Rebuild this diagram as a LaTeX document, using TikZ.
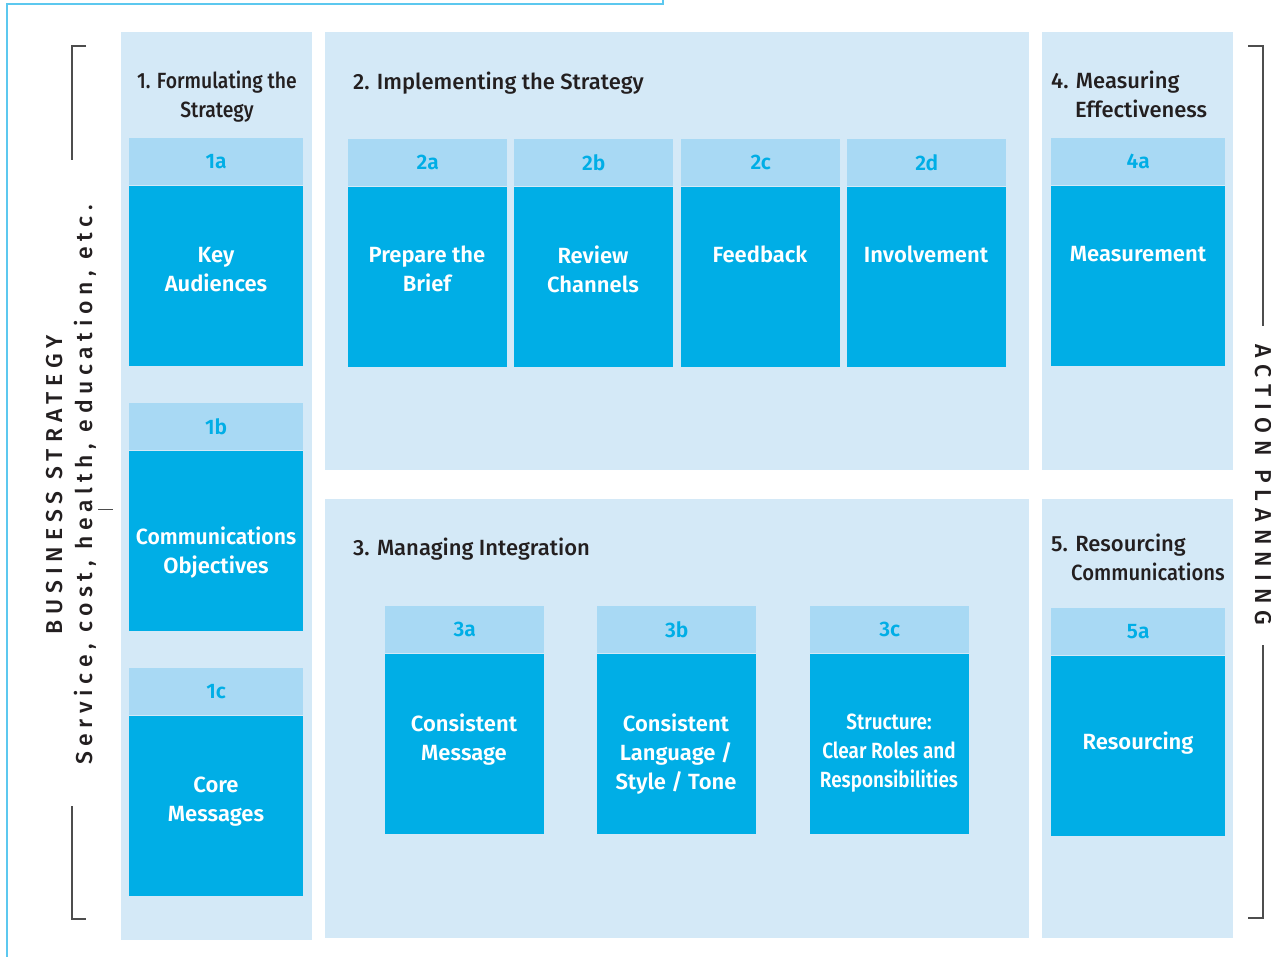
\documentclass[tikz,border=0pt]{standalone}
\usepackage{fontspec}
\usepackage{graphicx}
\setmainfont{Fira Sans}[UprightFont=* Medium, BoldFont=* SemiBold]

\definecolor{panelfill}{HTML}{D4E9F7}
\definecolor{hdrfill}{HTML}{A8D9F4}
\definecolor{bodyfill}{HTML}{00AEE6}
\definecolor{titleink}{HTML}{231F20}
\definecolor{frameline}{HTML}{5CC8EF}
\definecolor{bracketline}{HTML}{4D4D4D}

\tikzset{
  panel/.style={fill=panelfill},
  hdr/.style={fill=hdrfill, inner sep=0pt, minimum height=47pt, text=bodyfill,
    font=\bfseries\fontsize{21}{24}\selectfont},
  bdy/.style={fill=bodyfill, inner sep=0pt, minimum height=180pt},
  lbl/.style={anchor=north, inner sep=0pt, align=center, text=white,
    font=\bfseries\fontsize{22}{29}\selectfont},
  ttl/.style={inner sep=0pt, text=titleink, font=\fontsize{22}{29}\selectfont},
  sidetext/.style={inner sep=0pt, text=titleink},
  bracket/.style={draw=bracketline, line width=1.3pt},
}

% header strip + body block of one card
\newcommand{\card}[5]{%
  \node[hdr, minimum width=#4pt, anchor=north west] (#1h) at (#2,#3) {#5};
  \node[bdy, minimum width=#4pt, anchor=north] (#1b) at (#1h.south) {};
}

\begin{document}
\begin{tikzpicture}[x=1pt,y=-1pt]
\useasboundingbox (0,0) rectangle (1271,957);

% outer frame line
\coordinate (f0) at (663,0);
\coordinate (f1) at (663,4);
\coordinate (f2) at (7,4);
\coordinate (f3) at (7,957);
\draw[frameline, line width=1.4pt] (f0) -- (f1) -- (f2) -- (f3);

% panels
\fill[panel] (121,32) rectangle (312,940);
\fill[panel] (325,32) rectangle (1029,470);
\fill[panel] (325,499) rectangle (1029,938);
\fill[panel] (1042,32) rectangle (1233,470);
\fill[panel] (1042,499) rectangle (1233,938);

% titles
\node[ttl, anchor=north, align=center] (t1) at (217,71)
  {\scalebox{0.88}[1]{1. Formulating the}\\\scalebox{0.88}[1]{Strategy}};
\node[ttl, anchor=north west] (t2) at (353,72) {2. Implementing the Strategy};
\node[ttl, anchor=north west] (t3) at (353,538) {3. Managing Integration};
\node[ttl, anchor=north west, align=left] (t4) at (1051,71)
  {4. Measuring\\\hspace*{24pt}Effectiveness};
\node[ttl, anchor=north west, align=left] (t5) at (1051,534)
  {5. Resourcing\\\hspace*{20pt}\scalebox{0.92}[1]{Communications}};

% cards
\card{c1a}{129}{138}{174}{1a}
\card{c1b}{129}{403}{174}{1b}
\card{c1c}{129}{668}{174}{1c}
\card{c2a}{348}{139}{159}{2a}
\card{c2b}{514}{139}{159}{2b}
\card{c2c}{681}{139}{159}{2c}
\card{c2d}{847}{139}{159}{2d}
\card{c4a}{1051}{138}{174}{4a}
\card{c3a}{385}{606}{159}{3a}
\card{c3b}{597}{606}{159}{3b}
\card{c3c}{810}{606}{159}{3c}
\card{c5a}{1051}{608}{174}{5a}

% card labels
\node[lbl] (l1a) at (216,247) {Key\\Audiences};
\node[lbl] (l1b) at (216,527) {\scalebox{0.96}[1]{Communications}\\Objectives};
\node[lbl] (l1c) at (216,777) {Core\\Messages};
\node[lbl] (l2a) at (427,246) {Prepare the\\Brief};
\node[lbl] (l2b) at (593,246) {Review\\Channels};
\node[lbl] (l2c) at (760,246) {Feedback};
\node[lbl] (l2d) at (926,246) {Involvement};
\node[lbl] (l4a) at (1138,246) {Measurement};
\node[lbl] (l3a) at (464,714) {Consistent\\Message};
\node[lbl] (l3b) at (676,714) {Consistent\\Language /\\Style / Tone};
\node[lbl] (l3c) at (889,714)
  {\scalebox{0.86}[1]{Structure:}\\\scalebox{0.86}[1]{Clear Roles and}\\\scalebox{0.86}[1]{Responsibilities}};
\node[lbl] (l5a) at (1138,732) {Resourcing};

% left side: business strategy
\node[sidetext, rotate=90,
  font=\fontsize{23}{26}\selectfont\addfontfeature{LetterSpace=26}] (bs) at (55,485)
  {BUSINESS STRATEGY};
\node[sidetext, rotate=90,
  font=\fontsize{23}{26}\selectfont\addfontfeature{LetterSpace=24.5}] (sv) at (85,485)
  {Service, cost, health, education, etc.};
\coordinate (lb0) at (86,46);
\coordinate (lb1) at (72,46);
\coordinate (lb2) at (72,160);
\coordinate (lb3) at (72,806);
\coordinate (lb4) at (72,919);
\coordinate (lb5) at (86,919);
\coordinate (lt0) at (98,509);
\coordinate (lt1) at (113,509);
\draw[bracket] (lb0) -- (lb1) -- (lb2);
\draw[bracket] (lb3) -- (lb4) -- (lb5);
\draw[bracketline, line width=1pt] (lt0) -- (lt1);

% right side: action planning
\node[sidetext, rotate=-90,
  font=\fontsize{23}{26}\selectfont\addfontfeature{LetterSpace=31}] (ap) at (1263,485)
  {ACTION PLANNING};
\coordinate (rb0) at (1248,46);
\coordinate (rb1) at (1263,46);
\coordinate (rb2) at (1263,326);
\coordinate (rb3) at (1263,645);
\coordinate (rb4) at (1263,918);
\coordinate (rb5) at (1248,918);
\draw[bracket] (rb0) -- (rb1) -- (rb2);
\draw[bracket] (rb3) -- (rb4) -- (rb5);
\end{tikzpicture}
\end{document}
